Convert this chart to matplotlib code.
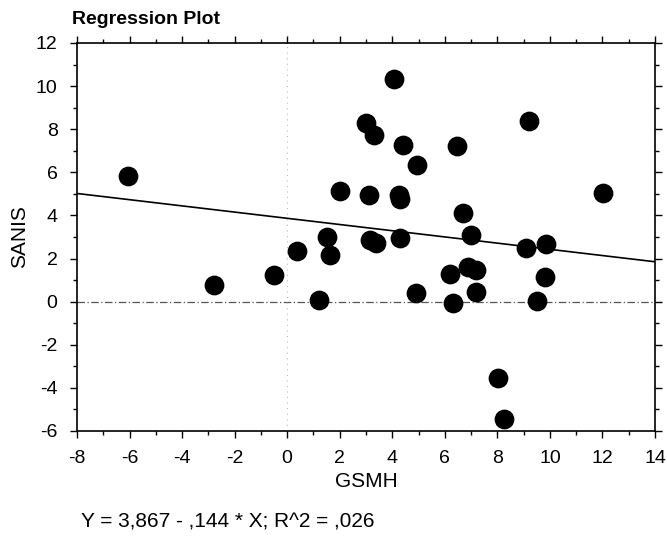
import matplotlib.pyplot as plt
from matplotlib.ticker import MultipleLocator

plt.rcParams['font.family'] = ['Liberation Sans', 'DejaVu Sans']
plt.rcParams['axes.unicode_minus'] = False

gsmh = [-6.05, -2.78, -0.5, 0.36, 1.22, 1.5, 1.63, 2.02, 3.0, 3.31, 3.1, 3.14,
        3.4, 4.07, 4.24, 4.3, 4.39, 4.3, 4.93, 4.9, 6.45, 6.7, 7.0, 9.22,
        12.04, 9.1, 9.86, 6.2, 6.9, 7.2, 6.3, 7.18, 9.5, 9.8, 8.04, 8.24]
sanis = [5.85, 0.78, 1.25, 2.33, 0.06, 3.0, 2.15, 5.14, 8.3, 7.73, 4.95, 2.88,
         2.7, 10.35, 4.95, 4.76, 7.27, 2.96, 6.36, 0.38, 7.2, 4.13, 3.1, 8.4,
         5.06, 2.48, 2.66, 1.3, 1.62, 1.47, -0.08, 0.46, 0.02, 1.13, -3.55, -5.44]

intercept = 3.867
slope = -0.144
x_line = [-8, 14]
y_line = [intercept + slope * v for v in x_line]

fig = plt.figure(figsize=(6.67, 5.36), dpi=100)
ax = fig.add_axes([0.1154, 0.1959, 0.8666, 0.7239])

ax.axhline(0, color='#555555', lw=0.9, ls=(0, (6, 2, 1, 2)), zorder=1)
ax.axvline(0, color='#bbbbbb', lw=0.8, ls=(0, (1, 4)), zorder=1)
ax.plot(x_line, y_line, color='black', lw=1.2, zorder=2)
ax.scatter(gsmh, sanis, s=175, color='black', zorder=3)

ax.set_xlim(-8, 14)
ax.set_ylim(-6, 12)
ax.xaxis.set_major_locator(MultipleLocator(2))
ax.xaxis.set_minor_locator(MultipleLocator(1))
ax.yaxis.set_major_locator(MultipleLocator(2))
ax.yaxis.set_minor_locator(MultipleLocator(1))
ax.tick_params(which='both', direction='out', top=True, right=True,
               labeltop=False, labelright=False, labelsize=14, width=1)
ax.tick_params(which='major', length=5)
ax.tick_params(which='minor', length=3)
ax.tick_params(axis='x', which='major', pad=9)
ax.tick_params(axis='y', which='major', pad=9)
for s in ax.spines.values():
    s.set_linewidth(1.2)

ax.set_xlabel('GSMH', fontsize=15, labelpad=3)
ax.set_ylabel('SANIS', fontsize=15, labelpad=5)
fig.text(0.108, 0.963, 'Regression Plot', fontsize=14, fontweight='bold',
         va='center', ha='left')
fig.text(0.121, 0.026, 'Y = 3,867 - ,144 * X; R^2 = ,026', fontsize=15,
         va='center', ha='left')

fig.savefig('out.png', dpi=100)
